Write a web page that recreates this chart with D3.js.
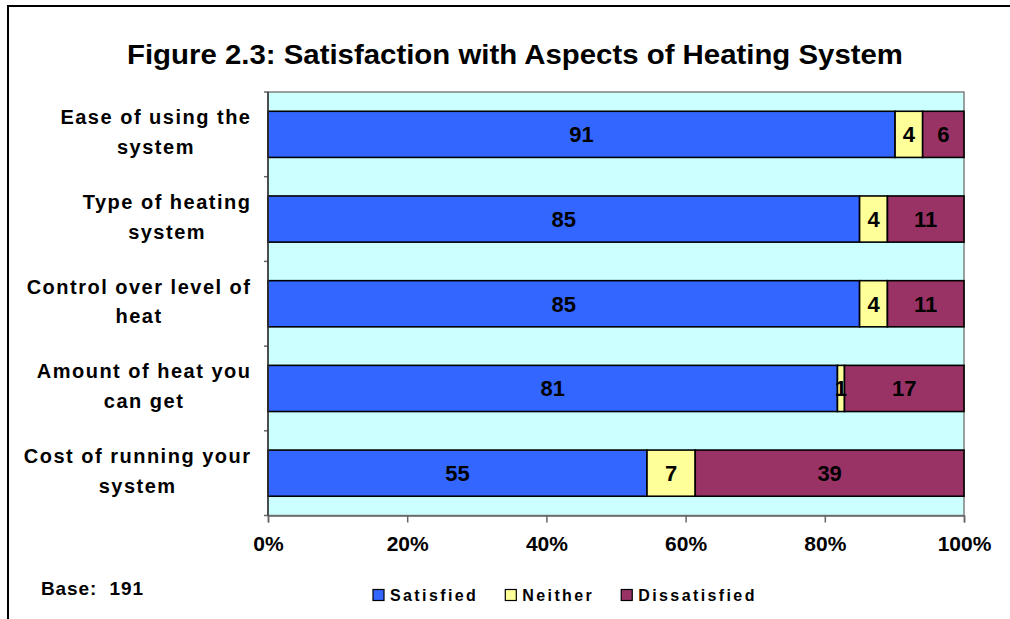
<!DOCTYPE html>
<html>
<head>
<meta charset="utf-8">
<script src="https://cdn.jsdelivr.net/npm/d3@7"></script>
<style>
  html, body { margin: 0; padding: 0; background: #ffffff; }
  svg { display: block; font-family: "Liberation Sans", Arial, sans-serif; font-weight: bold; }
</style>
</head>
<body>
<svg id="chart" width="1010" height="619"></svg>
<script>
// ---- data ----
const title = "Figure 2.3: Satisfaction with Aspects of Heating System";
const categories = [
  "Ease of using the\nsystem",
  "Type of heating\nsystem",
  "Control over level of\nheat",
  "Amount of heat you\ncan get",
  "Cost of running your\nsystem"
];
const seriesNames = ["Satisfied", "Neither", "Dissatisfied"];
const satisfied    = [91, 85, 85, 81, 55];
const neither      = [4, 4, 4, 1, 7];
const dissatisfied = [6, 11, 11, 17, 39];
const xTicks = [0, 0.2, 0.4, 0.6, 0.8, 1.0];
const baseNote = "Base:  191";

const colors = ["#3366FF", "#FFFF99", "#993366"];

// ---- build table ----
const table = categories.map((c, i) => ({
  cat: c, Satisfied: satisfied[i], Neither: neither[i], Dissatisfied: dissatisfied[i]
}));
const stacked = d3.stack().keys(seriesNames).offset(d3.stackOffsetExpand)(table);

const svg = d3.select("#chart");

// outer frame
svg.append("path")
  .attr("d", "M8,630 L8,6 L1020,6")
  .attr("fill", "none").attr("stroke", "#000").attr("stroke-width", 2);

// title (glyphs stretched to the reference's width)
svg.append("text")
  .attr("x", 515).attr("y", 64)
  .attr("text-anchor", "middle")
  .attr("font-size", 27)
  .attr("textLength", 776)
  .attr("lengthAdjust", "spacingAndGlyphs")
  .attr("fill", "#000")
  .text(title);

// scales
const x = d3.scaleLinear().domain([0, 1]).range([268, 964]);
const y = d3.scaleBand().domain(categories).range([92, 515.5])
  .paddingInner(0.455).paddingOuter(0.2275);

// plot background
svg.append("rect")
  .attr("x", x(0)).attr("y", 92)
  .attr("width", x(1) - x(0)).attr("height", 515.5 - 92)
  .attr("fill", "#CCFFFF").attr("stroke", "#808080").attr("stroke-width", 1.5);

// bars
const layers = svg.append("g").selectAll("g").data(stacked).join("g")
  .attr("fill", (d, i) => colors[i]);
layers.selectAll("rect").data(d => d).join("rect")
  .attr("x", d => x(d[0]))
  .attr("y", d => y(d.data.cat))
  .attr("width", d => x(d[1]) - x(d[0]))
  .attr("height", y.bandwidth())
  .attr("stroke", "#000").attr("stroke-width", 1.6);

// value labels
const labelG = svg.append("g");
stacked.forEach((layer, si) => {
  labelG.selectAll(null).data(layer).join("text")
    .attr("x", d => x((d[0] + d[1]) / 2))
    .attr("y", d => y(d.data.cat) + y.bandwidth() / 2 + 8)
    .attr("text-anchor", "middle")
    .attr("font-size", 22)
    .attr("fill", "#000")
    .text(d => d.data[layer.key]);
});

// x axis
const xAxis = d3.axisBottom(x).tickValues(xTicks).tickFormat(d3.format(".0%"))
  .tickSize(7).tickPadding(12);
const gx = svg.append("g").attr("transform", "translate(0,515.5)").call(xAxis);
gx.select(".domain").attr("stroke", "#666").attr("stroke-width", 1.5);
gx.selectAll(".tick line").attr("stroke", "#666").attr("stroke-width", 1.5);
gx.selectAll(".tick text")
  .attr("font-size", 21).attr("font-family", "Liberation Sans, Arial, sans-serif")
  .attr("font-weight", "bold").attr("fill", "#000").attr("dy", "0.71em")
  .attr("y", 21);

// y axis (ticks at band boundaries)
const boundaries = categories.map(c => y(c) - (y.step() - y.bandwidth()) / 2);
boundaries.push(515.5);
svg.append("g").selectAll("line").data(boundaries).join("line")
  .attr("x1", x(0) - 4).attr("x2", x(0))
  .attr("y1", d => d).attr("y2", d => d)
  .attr("stroke", "#666").attr("stroke-width", 1.5);
svg.append("line")
  .attr("x1", x(0)).attr("x2", x(0)).attr("y1", 92).attr("y2", 515.5)
  .attr("stroke", "#333").attr("stroke-width", 1.5);

// category labels: block right-aligned at 250, lines centered within block
const catG = svg.append("g");
categories.forEach(c => {
  const lines = c.split("\n");
  const cy = y(c) + y.bandwidth() / 2;
  const g = catG.append("g");
  const texts = lines.map((ln, li) => g.append("text")
    .attr("y", cy - 10 + li * 29.5)
    .attr("text-anchor", "middle")
    .attr("font-size", 20)
    .attr("letter-spacing", 1.5)
    .attr("fill", "#000")
    .text(ln));
  const maxW = d3.max(texts, t => t.node().getComputedTextLength());
  texts.forEach(t => t.attr("x", 251.5 - maxW / 2));
});

// legend
const legG = svg.append("g");
let lx = 373;
seriesNames.forEach((name, i) => {
  legG.append("rect")
    .attr("x", lx).attr("y", 589.5).attr("width", 11).attr("height", 11)
    .attr("fill", colors[i]).attr("stroke", "#000").attr("stroke-width", 1.2);
  const t = legG.append("text")
    .attr("x", lx + 17).attr("y", 601)
    .attr("font-size", 16).attr("letter-spacing", 2.4)
    .attr("fill", "#000").text(name);
  lx = lx + 17 + t.node().getComputedTextLength() + 27;
});

// base note
svg.append("text")
  .attr("x", 41).attr("y", 595)
  .attr("font-size", 19).attr("letter-spacing", 0.9)
  .attr("fill", "#000")
  .style("white-space", "pre")
  .text(baseNote);
</script>
</body>
</html>
